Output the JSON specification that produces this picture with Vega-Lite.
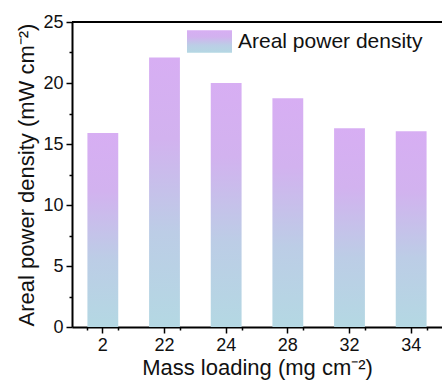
{
  "$schema": "https://vega.github.io/schema/vega-lite/v6.json",
  "autosize": "none",
  "padding": {"left": 72, "top": 22, "right": 0, "bottom": 58},
  "width": 370,
  "height": 305,
  "background": "white",
  "config": {
    "font": "Liberation Sans",
    "view": {"stroke": null},
    "axis": {
      "domainColor": "black", "domainWidth": 2, "tickColor": "black", "tickWidth": 1.5,
      "labelColor": "#111", "titleColor": "#111", "labelFont": "Liberation Sans", "titleFont": "Liberation Sans",
      "labelFontSize": 18, "titleFontSize": 22, "titleFontWeight": "normal", "grid": false
    }
  },
  "data": {"values": [
    {"loading": "2", "density": 15.9, "series": "Areal power density"},
    {"loading": "22", "density": 22.1, "series": "Areal power density"},
    {"loading": "24", "density": 20.0, "series": "Areal power density"},
    {"loading": "28", "density": 18.75, "series": "Areal power density"},
    {"loading": "32", "density": 16.3, "series": "Areal power density"},
    {"loading": "34", "density": 16.05, "series": "Areal power density"}
  ]},
  "layer": [
    {
      "mark": {"type": "bar",
        "color": {"gradient": "linear", "x1": 0, "y1": 0, "x2": 0, "y2": 1,
          "stops": [{"offset": 0, "color": "#d7aef3"}, {"offset": 0.3, "color": "#d2b2ef"}, {"offset": 0.65, "color": "#bccde6"}, {"offset": 1, "color": "#b4d8e3"}]}},
      "encoding": {
        "x": {"field": "loading", "type": "ordinal", "sort": null,
          "scale": {"paddingInner": 0.5, "paddingOuter": 0.25},
          "axis": {"title": "Mass loading (mg cm⁻²)", "labelAngle": 0, "tickSize": 6, "labelPadding": 3, "titlePadding": 3}},
        "y": {"field": "density", "type": "quantitative",
          "scale": {"domain": [0, 25], "nice": false},
          "axis": {"title": "Areal power density (mW cm⁻²)", "values": [0, 5, 10, 15, 20, 25], "tickSize": 6, "labelPadding": 3, "titlePadding": 4}},
        "opacity": {"field": "series", "type": "nominal",
          "scale": {"range": [1]},
          "legend": {"title": null, "orient": "none", "legendX": 115, "legendY": -3, "labelFontSize": 21, "labelLimit": 400, "labelColor": "#111", "labelFont": "Liberation Sans",
            "symbolType": "M-1,-0.5H1V0.5H-1Z", "symbolSize": 2025, "symbolStrokeWidth": 0, "labelOffset": 6,
            "encode": {"symbols": {"update": {"fill": {"value": {"gradient": "linear", "x1": 0, "y1": 0, "x2": 0, "y2": 1,
              "stops": [{"offset": 0, "color": "#d7aef3"}, {"offset": 0.4, "color": "#d0b4ee"}, {"offset": 1, "color": "#b4d8e3"}]}}, "opacity": {"value": 1}}}}}}
      }
    },
    {
      "mark": {"type": "bar", "opacity": 0},
      "encoding": {
        "x": {"field": "loading", "type": "ordinal", "sort": null,
          "axis": {"title": null, "labels": false, "domain": false, "tickBand": "extent", "tickSize": 3, "orient": "bottom"}},
        "y": {"field": "density", "type": "quantitative", "axis": null}
      }
    },
    {
      "mark": {"type": "bar", "opacity": 0},
      "encoding": {
        "x": {"field": "loading", "type": "ordinal", "sort": null, "axis": null},
        "y": {"field": "density", "type": "quantitative",
          "axis": {"title": null, "labels": false, "domain": false, "values": [2.5, 7.5, 12.5, 17.5, 22.5], "tickSize": 3, "orient": "left"}}
      }
    },
    {
      "mark": {"type": "rule", "color": "black", "strokeWidth": 2},
      "encoding": {"y": {"datum": 25, "axis": null}}
    }
  ],
  "resolve": {"axis": {"x": "independent", "y": "independent"}}
}
